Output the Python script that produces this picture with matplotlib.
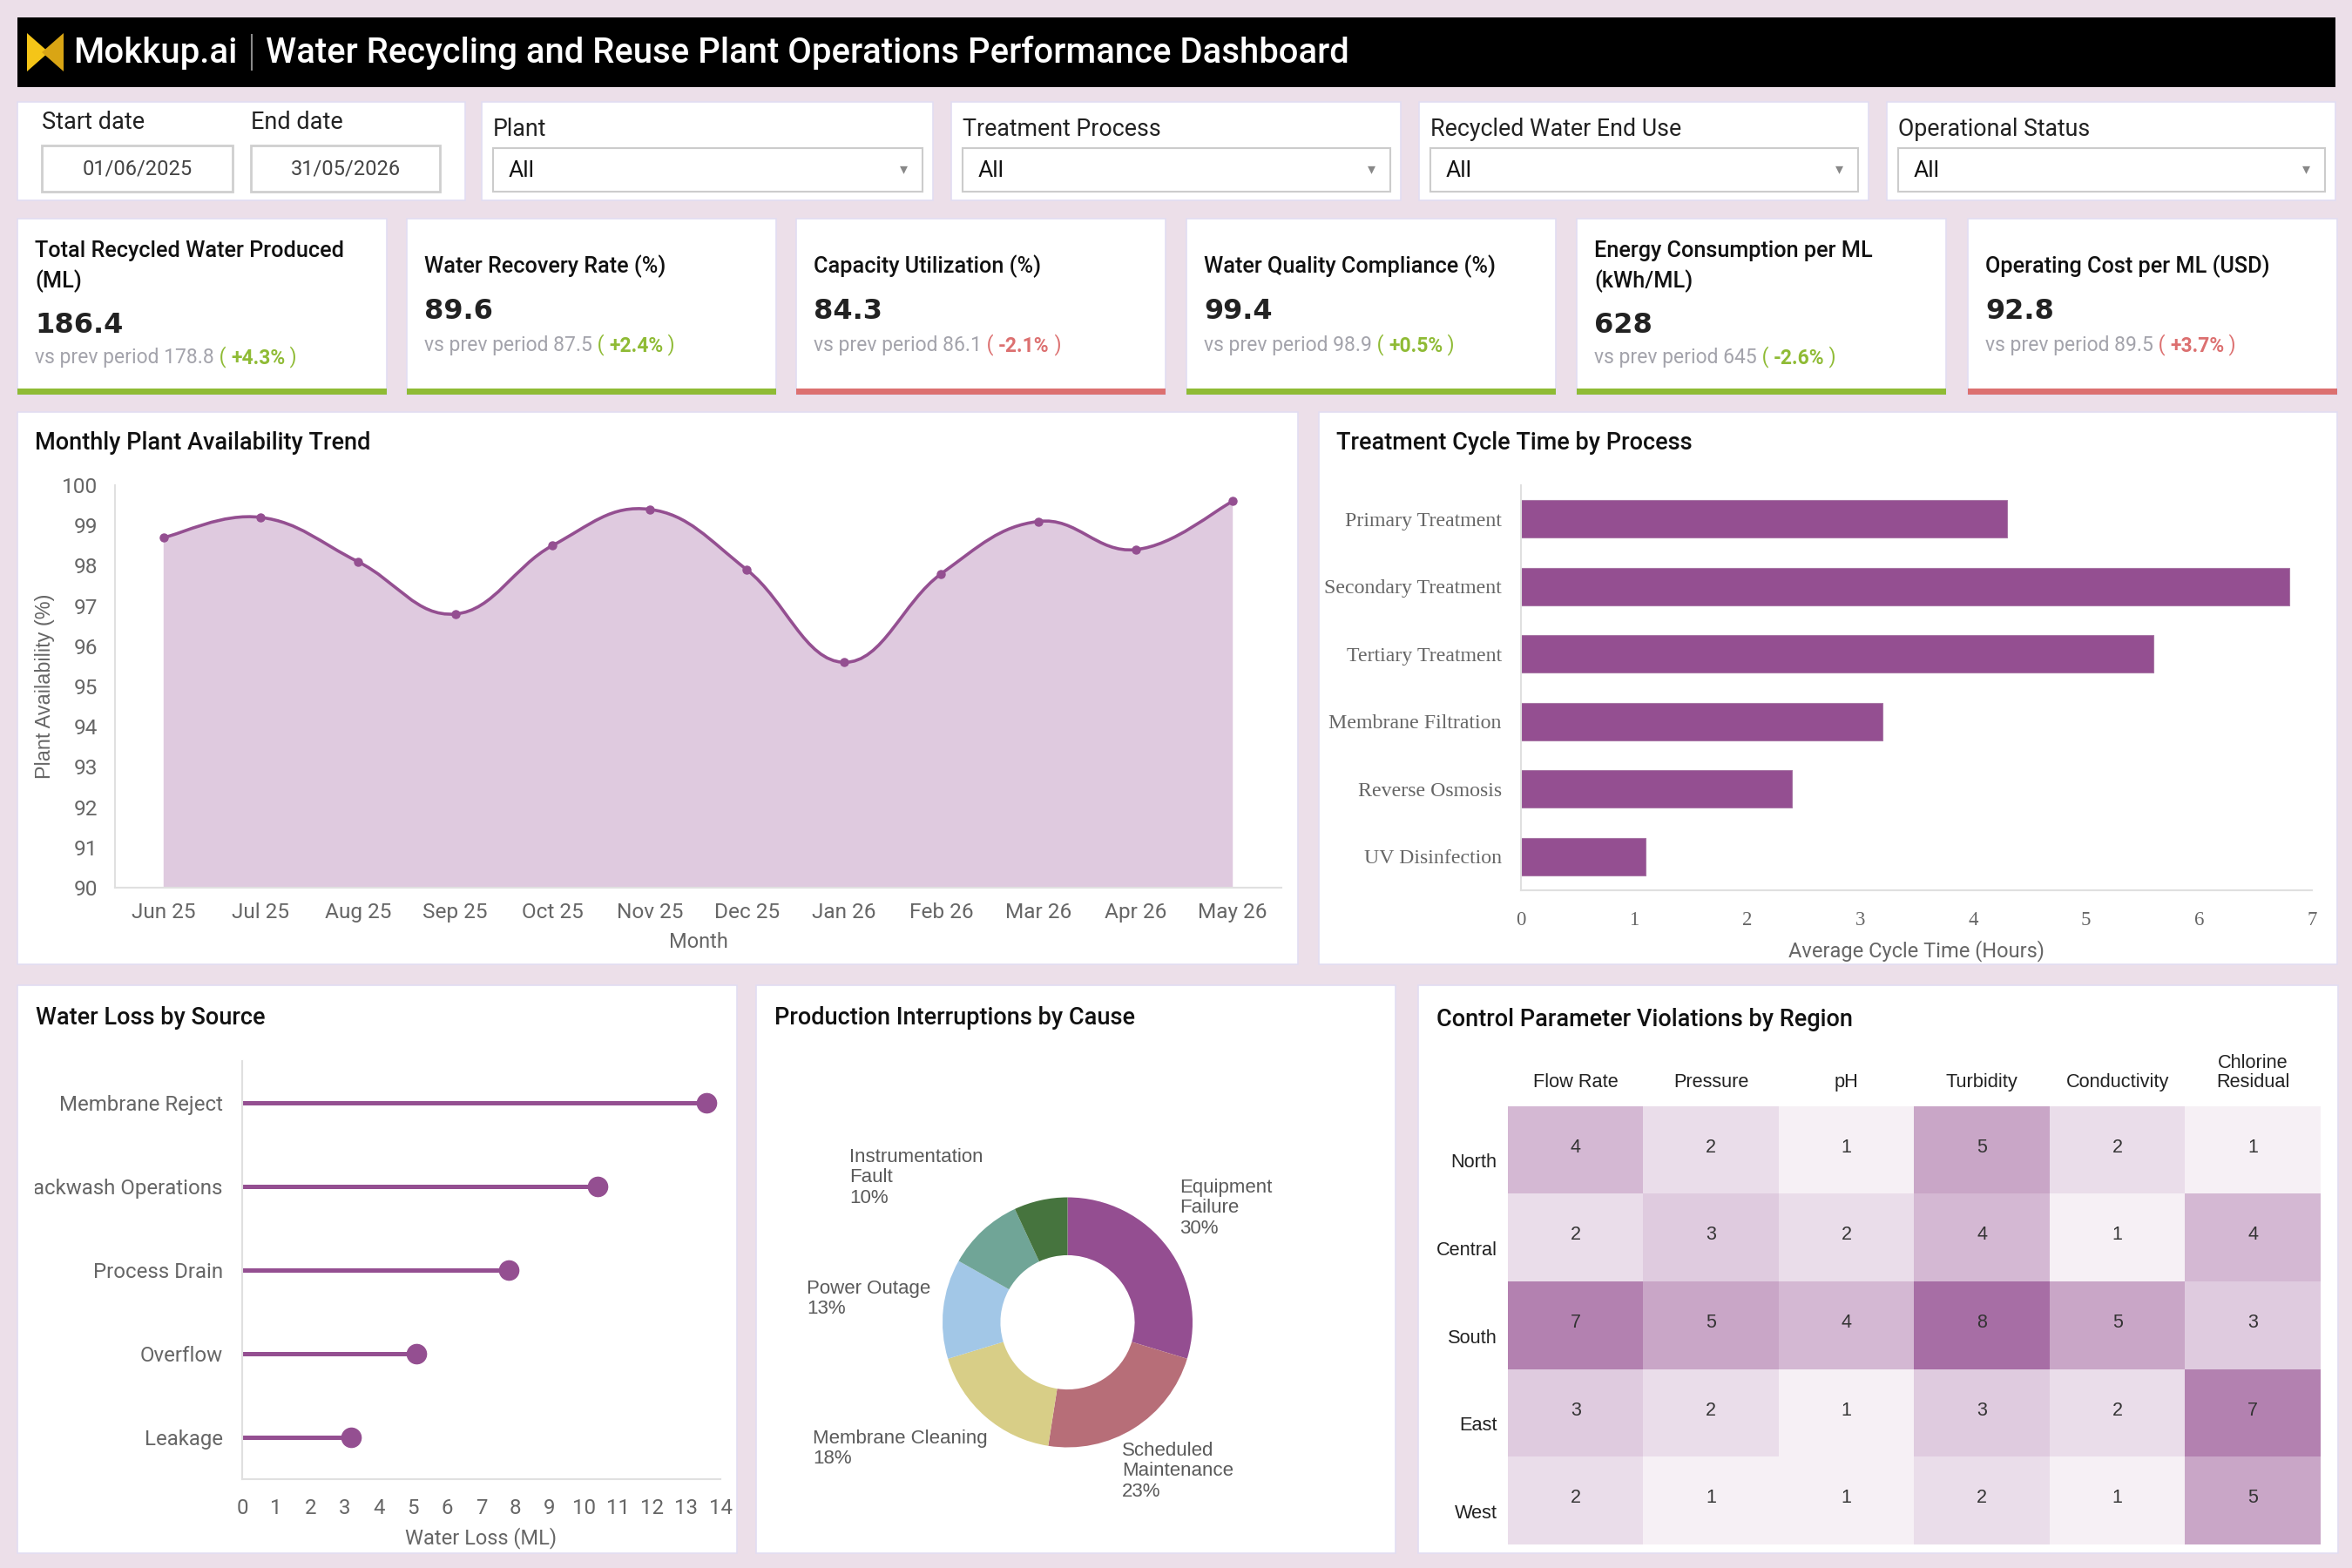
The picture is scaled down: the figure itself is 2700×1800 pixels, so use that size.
import numpy as np
import matplotlib
matplotlib.use("Agg")
import matplotlib.pyplot as plt
from matplotlib.patches import Rectangle, PathPatch, Polygon
from matplotlib.path import Path
from matplotlib.colors import LinearSegmentedColormap
from matplotlib.transforms import Bbox, TransformedBbox, ScaledTranslation

plt.rcParams["font.family"] = ["Roboto", "DejaVu Sans"]

W, H = 2700, 1800

# ---------------- data ----------------
start_date = "01/06/2025"
end_date = "31/05/2026"
filter_labels = ["Plant", "Treatment Process", "Recycled Water End Use", "Operational Status"]
filter_values = ["All", "All", "All", "All"]

kpi_titles = ["Total Recycled Water Produced\n(ML)", "Water Recovery Rate (%)",
              "Capacity Utilization (%)", "Water Quality Compliance (%)",
              "Energy Consumption per ML\n(kWh/ML)", "Operating Cost per ML (USD)"]
kpi_values = ["186.4", "89.6", "84.3", "99.4", "628", "92.8"]
kpi_prev = ["178.8", "87.5", "86.1", "98.9", "645", "89.5"]
kpi_delta = ["+4.3%", "+2.4%", "-2.1%", "+0.5%", "-2.6%", "+3.7%"]
kpi_good = [True, True, False, True, True, False]

months = ["Jun 25", "Jul 25", "Aug 25", "Sep 25", "Oct 25", "Nov 25",
          "Dec 25", "Jan 26", "Feb 26", "Mar 26", "Apr 26", "May 26"]
availability = [98.7, 99.2, 98.1, 96.8, 98.5, 99.4, 97.9, 95.6, 97.8, 99.1, 98.4, 99.6]

processes = ["Primary Treatment", "Secondary Treatment", "Tertiary Treatment",
             "Membrane Filtration", "Reverse Osmosis", "UV Disinfection"]
cycle_hours = [4.3, 6.8, 5.6, 3.2, 2.4, 1.1]

loss_sources = ["Membrane Reject", "Backwash Operations", "Process Drain", "Overflow", "Leakage"]
loss_ml = [13.6, 10.4, 7.8, 5.1, 3.2]

causes = ["Equipment Failure", "Scheduled Maintenance", "Membrane Cleaning",
          "Power Outage", "Instrumentation Fault", "Other"]
cause_counts = [30, 23, 18, 13, 10, 7]
cause_labels = ["Equipment\nFailure", "Scheduled\nMaintenance", "Membrane Cleaning",
                "Power Outage", "Instrumentation\nFault", None]
cause_colors = ["#944e91", "#b76e78", "#d8ce87", "#a2c7e7", "#70a597", "#46743e"]

regions = ["North", "Central", "South", "East", "West"]
parameters = ["Flow Rate", "Pressure", "pH", "Turbidity", "Conductivity", "Chlorine\nResidual"]
violations = [[4, 2, 1, 5, 2, 1],
              [2, 3, 2, 4, 1, 4],
              [7, 5, 4, 8, 5, 3],
              [3, 2, 1, 3, 2, 7],
              [2, 1, 1, 2, 1, 5]]

# ---------------- style ----------------
BG = "#ecdfe9"
PURPLE = "#944f91"
FILL = "#dfcadf"
GREEN = "#8fbb35"
RED = "#dc7070"
TICK = "#666666"
EDGE = "#e2ddf2"


def rect(x0, y0, x1, y1):
    return [x0 / W, 1 - y1 / H, (x1 - x0) / W, (y1 - y0) / H]


fig = plt.figure(figsize=(27, 18), dpi=100)
fig.patch.set_facecolor(BG)
bg = fig.add_axes([0, 0, 1, 1], zorder=0)
bg.set_xlim(0, W)
bg.set_ylim(H, 0)
bg.axis("off")


def panel(x0, y0, x1, y1):
    bg.add_patch(Rectangle((x0, y0), x1 - x0, y1 - y0, fc="white", ec=EDGE, lw=1.2))


# header
bg.add_patch(Rectangle((20, 20), 2661, 80, fc="black", ec="none"))
bg.add_patch(Polygon([(31, 38), (31, 82), (56, 60)], fc="#f5c518", ec="none"))
bg.add_patch(Polygon([(73, 38), (73, 82), (48, 60)], fc="#d9a514", ec="none"))
bg.text(84, 61, "Mokkup.ai", color="white", fontsize=29, fontweight="medium", va="center")
bg.plot([289, 289], [40, 80], color="#8a8a8a", lw=1.5)
bg.text(305, 61, "Water Recycling and Reuse Plant Operations Performance Dashboard",
        color="white", fontsize=28.8, fontweight="medium", va="center")

# filters
panel(20, 117, 534, 230)
bg.text(48, 141, "Start date", fontsize=19.5, va="center", color="#222")
bg.text(288, 141, "End date", fontsize=19.5, va="center", color="#222")
for (bx0, bx1), d in zip([(48, 267), (288, 505)], [start_date, end_date]):
    bg.add_patch(Rectangle((bx0, 167), bx1 - bx0, 53, fc="white", ec="#cfcfcf", lw=2))
    bg.text((bx0 + bx1) / 2, 194, d, fontsize=17, ha="center", va="center", color="#444")

filter_x = [(553, 1071), (1092, 1608), (1629, 2145), (2166, 2681)]
for (fx0, fx1), lab, val in zip(filter_x, filter_labels, filter_values):
    panel(fx0, 117, fx1, 230)
    bg.text(fx0 + 13, 149, lab, fontsize=19.3, va="center", color="#222")
    bg.add_patch(Rectangle((fx0 + 13, 170), fx1 - fx0 - 25, 50, fc="white", ec="#cccccc", lw=1.5))
    bg.text(fx0 + 31, 196, val, fontsize=19, va="center", color="#111")
    bg.text(fx1 - 34, 194, "\u25be", fontsize=13, va="center", ha="center", color="#888888",
            family=["DejaVu Sans"])

# KPI cards
card_x = [20, 467, 914, 1362, 1810, 2259]
for cx, title, val, prev, delta, good in zip(card_x, kpi_titles, kpi_values, kpi_prev,
                                              kpi_delta, kpi_good):
    panel(cx, 251, cx + 424, 453)
    col = GREEN if good else RED
    bg.add_patch(Rectangle((cx, 446), 424, 7, fc=col, ec="none"))
    two = "\n" in title
    bg.text(cx + 20, 306, title, fontsize=18.2, fontweight="medium",
            va="center", linespacing=1.45, color="#111")
    bg.text(cx + 20, 373 if two else 358, val, fontsize=23, fontweight="bold",
            va="center", color="#222", family=["DejaVu Sans"])
    t1 = bg.text(cx + 20, 411 if two else 397, f"vs prev period {prev}",
                 fontsize=16.5, va="center", color="#a3a3ab")
    t2 = bg.annotate(" ( ", xy=(1, 0), xycoords=t1, va="bottom", ha="left",
                     fontsize=16.5, color=col)
    t3 = bg.annotate(delta, xy=(1, 0), xycoords=t2, va="bottom", ha="left",
                     fontsize=16.5, color=col, fontweight="bold")
    bg.annotate(" )", xy=(1, 0), xycoords=t3, va="bottom", ha="left",
                fontsize=16.5, color=col)

# panels for charts
panel(20, 473, 1490, 1107)
panel(1514, 473, 2683, 1107)
panel(20, 1131, 846, 1783)
panel(868, 1131, 1602, 1783)
panel(1628, 1131, 2684, 1783)
for x, y, s in [(40, 509, "Monthly Plant Availability Trend"),
                (1534, 509, "Treatment Cycle Time by Process"),
                (41, 1169, "Water Loss by Source"),
                (889, 1169, "Production Interruptions by Cause"),
                (1649, 1170, "Control Parameter Violations by Region")]:
    bg.text(x, y, s, fontsize=19.5, fontweight="medium", va="center", color="#111")


def light_axes(ax, left=True, bottom=True):
    ax.set_facecolor("none")
    for k, sp in ax.spines.items():
        sp.set_color("#e0e0e0")
        sp.set_linewidth(1.5)
        sp.set_visible((k == "left" and left) or (k == "bottom" and bottom))
    ax.tick_params(length=0, colors=TICK)


# ---- Monthly Plant Availability Trend (smooth area) ----
ax1 = fig.add_axes(rect(132, 557, 1471, 1019))
light_axes(ax1)
xs = np.arange(len(months), dtype=float)
ys = np.array(availability, dtype=float)
pts = np.column_stack([xs, ys])
verts, codes = [pts[0]], [Path.MOVETO]
s = 0.2
for i in range(len(pts) - 1):
    p0, p1 = pts[max(i - 1, 0)], pts[i]
    p2, p3 = pts[i + 1], pts[min(i + 2, len(pts) - 1)]
    verts += [p1 + (p2 - p0) * s, p2 - (p3 - p1) * s, p2]
    codes += [Path.CURVE4] * 3
fill_verts = verts + [(xs[-1], 90), (xs[0], 90), pts[0]]
fill_codes = codes + [Path.LINETO, Path.LINETO, Path.CLOSEPOLY]
ax1.add_patch(PathPatch(Path(fill_verts, fill_codes), fc=FILL, ec="none", zorder=1))
ax1.add_patch(PathPatch(Path(verts, codes), fc="none", ec=PURPLE, lw=2.6, zorder=3))
ax1.plot(xs, ys, "o", ms=6.5, color=PURPLE, zorder=4)
ax1.set_xlim(-0.5, len(months) - 0.5)
ax1.set_ylim(90, 100)
ax1.set_yticks(range(90, 101))
ax1.set_xticks(xs)
ax1.set_xticklabels(months)
ax1.tick_params(axis="x", pad=12, labelsize=17.6)
ax1.tick_params(axis="y", pad=14, labelsize=17.6)
ax1.set_xlabel("Month", fontsize=17, color=TICK, labelpad=8)
ax1.set_ylabel("Plant Availability (%)", fontsize=16.8, color=TICK, labelpad=6,
               family=["Liberation Sans"])

# ---- Treatment Cycle Time by Process ----
ax2 = fig.add_axes(rect(1746, 557, 2654, 1022))
light_axes(ax2)
yp = np.arange(len(processes))
ax2.barh(yp, cycle_hours, height=0.56, color=PURPLE, edgecolor="#a877a5", lw=0.8)
ax2.set_ylim(len(processes) - 0.5, -0.5)
ax2.set_xlim(0, 7)
ax2.set_yticks(yp)
ax2.set_yticklabels(processes, family=["Liberation Serif"], fontsize=17.2)
ax2.set_xticks(range(8))
ax2.set_xticklabels([str(v) for v in range(8)], family=["Liberation Serif"], fontsize=16.5)
ax2.tick_params(axis="x", pad=17)
ax2.tick_params(axis="y", pad=16)
ax2.set_xlabel("Average Cycle Time (Hours)", fontsize=17, color=TICK, labelpad=9)

# ---- Water Loss by Source (lollipop) ----
ax3 = fig.add_axes(rect(278, 1218, 827, 1698))
light_axes(ax3)
yl = np.arange(len(loss_sources))
ax3.hlines(yl, 0, loss_ml, color=PURPLE, lw=3.6, zorder=2)
ax3.plot(loss_ml, yl, "o", ms=16, color=PURPLE, zorder=3, clip_on=False)
ax3.set_ylim(len(loss_sources) - 0.5, -0.5)
ax3.set_xlim(0, 14)
ax3.set_xticks(range(15))
ax3.set_yticks(yl)
ax3.set_yticklabels(loss_sources)
ax3.tick_params(axis="x", pad=16, labelsize=17.3)
ax3.tick_params(axis="y", pad=16, labelsize=17.3)
ax3.set_xlabel("Water Loss (ML)", fontsize=17, color=TICK, labelpad=7)
clip = TransformedBbox(Bbox([[40 / W, 0], [1, 1]]), fig.transFigure)
for lbl in ax3.get_yticklabels():
    lbl.set_clip_on(True)
    lbl.set_clip_box(clip)

# ---- Production Interruptions by Cause (donut) ----
R = 143.5
cxp, cyp = 1225.5, 1518
ax4 = fig.add_axes(rect(cxp - R, cyp - R, cxp + R, cyp + R))
ax4.pie(cause_counts, colors=cause_colors, startangle=90, counterclock=False, radius=1,
        wedgeprops=dict(width=0.463, edgecolor="none"))
ax4.set_xlim(-1, 1)
ax4.set_ylim(-1, 1)
ax4.set_aspect("equal")
ax4.axis("off")
label_pos = [(1354, 1353), (1288, 1655), (933, 1641), (926, 1469), (975, 1318), None]
total = sum(cause_counts)
for name, cnt, pos in zip(cause_labels, cause_counts, label_pos):
    if name is None:
        continue
    bg.text(pos[0], pos[1], f"{name}\n{round(100 * cnt / total)}%", fontsize=16,
            va="top", ha="left", color="#5a5a5a", linespacing=1.15,
            family=["Liberation Sans"])

# ---- Control Parameter Violations by Region (heatmap) ----
ax5 = fig.add_axes(rect(1731, 1270, 2664, 1773))
cmap = LinearSegmentedColormap.from_list("pv", ["#ffffff", "#944e91"])
ax5.imshow(np.array(violations), cmap=cmap, vmin=0.2, vmax=9.8, aspect="auto",
           interpolation="nearest")
for r, row in enumerate(violations):
    for c, v in enumerate(row):
        ax5.text(c, r - 0.03, str(v), ha="center", va="center", fontsize=15.5,
                 color="#333333", family=["Liberation Sans"])
for sp in ax5.spines.values():
    sp.set_visible(False)
ax5.xaxis.tick_top()
ax5.set_xticks(range(len(parameters)))
ax5.set_xticklabels(parameters, fontsize=15.7, color="#222", family=["Liberation Sans"],
                    linespacing=1.1)
ax5.set_yticks(range(len(regions)))
ax5.set_yticklabels(regions, fontsize=15.7, color="#222", family=["Liberation Sans"])
ax5.tick_params(length=0)
ax5.tick_params(axis="x", pad=12)
ax5.tick_params(axis="y", pad=9)
shift = ScaledTranslation(0, -0.12, fig.dpi_scale_trans)
for lbl in ax5.get_yticklabels():
    lbl.set_transform(lbl.get_transform() + shift)

fig.savefig("out.png", dpi=100, facecolor=fig.get_facecolor())
